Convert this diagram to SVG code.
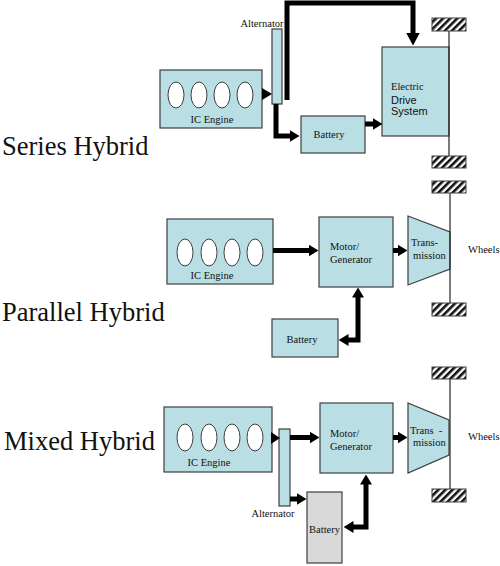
<svg xmlns="http://www.w3.org/2000/svg" width="500" height="566" viewBox="0 0 500 566">
<style>
.box{fill:#b9dee3;stroke:#3f3f3f;stroke-width:1.2}
.bat2{fill:#d9d9d9;stroke:#3f3f3f;stroke-width:1.2}
.cyl{fill:#ffffff;stroke:#3f3f3f;stroke-width:1}
.hatch{fill:url(#hp);stroke:#3f3f3f;stroke-width:1}
.axle{stroke:#222;stroke-width:1.2;fill:none}
.t{font-family:"Liberation Serif","Times New Roman",serif;font-size:10.5px;fill:#111}
.s{font-family:"Liberation Sans",Arial,sans-serif;font-size:11px;fill:#111}
.title{font-family:"Liberation Serif","Times New Roman",serif;font-size:26.5px;fill:#111}
.c{fill:none;stroke:#000;stroke-width:5;stroke-linejoin:miter}
.tri{fill:#000}
</style>
<defs>
<pattern id="hp" width="5" height="5" patternUnits="userSpaceOnUse" patternTransform="rotate(45)">
<rect width="5" height="5" fill="#fff"/>
<rect width="2.6" height="5" fill="#111"/>
</pattern>
<marker id="ah" viewBox="0 0 10 12" markerWidth="10" markerHeight="12" refX="0.5" refY="6" orient="auto-start-reverse" markerUnits="userSpaceOnUse">
<path d="M0,0 L10,6 L0,12 z" fill="#000"/>
</marker>
<marker id="ahL" viewBox="0 0 13 14" markerWidth="13" markerHeight="14" refX="0.5" refY="7" orient="auto" markerUnits="userSpaceOnUse">
<path d="M0,0 L13,7 L0,14 z" fill="#000"/>
</marker>
</defs>
<rect width="500" height="566" fill="#fff"/>

<!-- Titles -->
<g id="title-series"><text class="title" x="2" y="155">Series Hybrid</text></g>
<g id="title-parallel"><text class="title" x="2" y="321">Parallel Hybrid</text></g>
<g id="title-mixed"><text class="title" x="4" y="450">Mixed Hybrid</text></g>

<!-- Series Hybrid -->
<g id="series-engine">
<rect class="box" x="160" y="70" width="102" height="58"/>
<ellipse class="cyl" cx="176" cy="95" rx="8" ry="13"/>
<ellipse class="cyl" cx="199" cy="95" rx="8" ry="13"/>
<ellipse class="cyl" cx="222" cy="95" rx="8" ry="13"/>
<ellipse class="cyl" cx="245" cy="95" rx="8" ry="13"/>
<text class="t" x="212" y="123" text-anchor="middle">IC Engine</text>
</g>
<g id="series-alternator">
<rect class="box" x="272" y="29" width="10" height="75"/>
<text class="t" x="262" y="27" text-anchor="middle">Alternator</text>
</g>
<g id="series-battery">
<rect class="box" x="301" y="116" width="64" height="37"/>
<text class="t" x="329" y="138" text-anchor="middle">Battery</text>
</g>
<g id="series-drive">
<rect class="box" x="382" y="47" width="67" height="89"/>
<text class="t" x="391" y="90">Electric</text>
<text class="s" x="391" y="104">Drive</text>
<text class="s" x="391" y="115">System</text>
</g>
<g id="series-wheels">
<line class="axle" x1="449" y1="31" x2="449" y2="156"/>
<rect class="hatch" x="432" y="18" width="34" height="13"/>
<rect class="hatch" x="432" y="156" width="34" height="12"/>
</g>

<!-- Parallel Hybrid -->
<g id="parallel-engine">
<rect class="box" x="167" y="219" width="106" height="65"/>
<ellipse class="cyl" cx="185" cy="252.5" rx="8" ry="13.5"/>
<ellipse class="cyl" cx="209" cy="252.5" rx="8" ry="13.5"/>
<ellipse class="cyl" cx="232" cy="252.5" rx="8" ry="13.5"/>
<ellipse class="cyl" cx="255" cy="252.5" rx="8" ry="13.5"/>
<text class="t" x="212" y="279" text-anchor="middle">IC Engine</text>
</g>
<g id="parallel-motor">
<rect class="box" x="319" y="217" width="74" height="70"/>
<text class="t" x="330" y="250">Motor/</text>
<text class="t" x="330" y="263">Generator</text>
</g>
<g id="parallel-transmission">
<polygon class="box" points="408,216 450,232 450,269 408,285"/>
<text class="t" x="411" y="246">Trans-</text>
<text class="t" x="413" y="259">mission</text>
</g>
<g id="parallel-battery">
<rect class="box" x="272" y="319" width="66" height="38"/>
<text class="t" x="302" y="343" text-anchor="middle">Battery</text>
</g>
<g id="parallel-wheels">
<line class="axle" x1="450" y1="193" x2="450" y2="303"/>
<rect class="hatch" x="432" y="181" width="34" height="12"/>
<rect class="hatch" x="432" y="303" width="34" height="13"/>
<text class="t" x="468" y="253">Wheels</text>
</g>

<!-- Mixed Hybrid -->
<g id="mixed-engine">
<rect class="box" x="164" y="407" width="108" height="65"/>
<ellipse class="cyl" cx="185" cy="437.5" rx="8" ry="13.5"/>
<ellipse class="cyl" cx="209" cy="437.5" rx="8" ry="13.5"/>
<ellipse class="cyl" cx="232" cy="437.5" rx="8" ry="13.5"/>
<ellipse class="cyl" cx="255" cy="437.5" rx="8" ry="13.5"/>
<text class="t" x="209" y="466" text-anchor="middle">IC Engine</text>
</g>
<g id="mixed-alternator">
<rect class="box" x="279" y="429" width="11" height="77"/>
<text class="t" x="273" y="517" text-anchor="middle">Alternator</text>
</g>
<g id="mixed-motor">
<rect class="box" x="320" y="403" width="73" height="70"/>
<text class="t" x="330" y="437">Motor/</text>
<text class="t" x="330" y="450">Generator</text>
</g>
<g id="mixed-transmission">
<polygon class="box" points="408,403 449,420 449,455 408,473"/>
<text class="t" x="410" y="434" xml:space="preserve">Trans  -</text>
<text class="t" x="413" y="446">mission</text>
</g>
<g id="mixed-battery">
<rect class="bat2" x="307" y="492" width="35" height="71"/>
<text class="t" x="324.5" y="533" text-anchor="middle" font-size="9.5">Battery</text>
</g>
<g id="mixed-wheels">
<line class="axle" x1="450" y1="379" x2="450" y2="489"/>
<rect class="hatch" x="432" y="367" width="34" height="12"/>
<rect class="hatch" x="432" y="489" width="34" height="13"/>
<text class="t" x="468" y="440">Wheels</text>
</g>

<!-- Connectors -->
<g id="connectors">
<!-- series -->
<polygon class="tri" points="262,88 272,94 262,100"/>
<path class="c" d="M287,100 V3 H413 V33" marker-end="url(#ahL)"/>
<path class="c" d="M276,104 V136 H290" marker-end="url(#ah)"/>
<path class="c" d="M365,124 H373" marker-end="url(#ah)"/>
<!-- parallel -->
<path class="c" d="M273,250.5 H309" marker-end="url(#ah)"/>
<path class="c" d="M393,250.5 H398" marker-end="url(#ah)"/>
<path class="c" d="M358,297 V340 H348" marker-start="url(#ah)" marker-end="url(#ah)"/>
<!-- mixed -->
<polygon class="tri" points="271,432 280,438 271,444"/>
<path class="c" d="M290,437.5 H310" marker-end="url(#ah)"/>
<path class="c" d="M393,437.5 H398" marker-end="url(#ah)"/>
<path class="c" d="M290,499 H297" marker-end="url(#ah)"/>
<path class="c" d="M366,484 V527 H353" marker-start="url(#ah)" marker-end="url(#ah)"/>
</g>
</svg>
